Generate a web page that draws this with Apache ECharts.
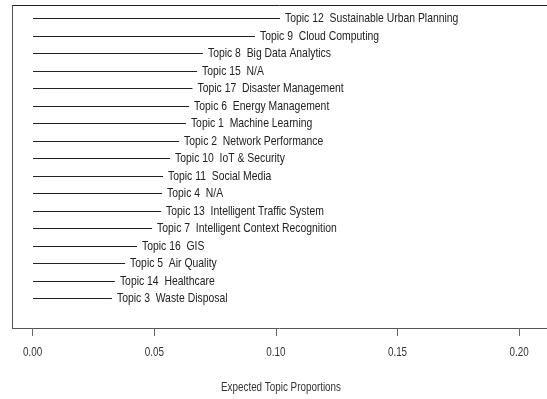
<!DOCTYPE html>
<html>
<head>
<meta charset="utf-8">
<script src="https://cdn.jsdelivr.net/npm/echarts@6/dist/echarts.min.js"></script>
<style>
  html, body { margin: 0; padding: 0; background: #fff; }
  #chart { width: 547px; height: 399px; }
</style>
</head>
<body>
<div id="chart"></div>
<script>
// Topics, ordered from top row to bottom row
const topics = [
  'Topic 12  Sustainable Urban Planning',
  'Topic 9  Cloud Computing',
  'Topic 8  Big Data Analytics',
  'Topic 15  N/A',
  'Topic 17  Disaster Management',
  'Topic 6  Energy Management',
  'Topic 1  Machine Learning',
  'Topic 2  Network Performance',
  'Topic 10  IoT & Security',
  'Topic 11  Social Media',
  'Topic 4  N/A',
  'Topic 13  Intelligent Traffic System',
  'Topic 7  Intelligent Context Recognition',
  'Topic 16  GIS',
  'Topic 5  Air Quality',
  'Topic 14  Healthcare',
  'Topic 3  Waste Disposal'
];

// Expected topic proportions, same order
const proportions = [
  0.1017, 0.0914, 0.0700, 0.0676, 0.0657, 0.0643, 0.0630, 0.0602, 0.0565,
  0.0536, 0.0532, 0.0528, 0.0491, 0.0429, 0.0380, 0.0338, 0.0326
];

const xTicks = [0, 0.05, 0.10, 0.15, 0.20];
const xTickLabels = ['0.00', '0.05', '0.10', '0.15', '0.20'];
const xTitle = 'Expected Topic Proportions';

const FONT = '"Liberation Sans", Arial, sans-serif';
const FONT_SIZE = 13.5;
const NARROW = 0.77;       // horizontal squeeze for an Arial-Narrow look
const NARROW_AXIS = 0.73;

const chart = echarts.init(document.getElementById('chart'), null, { renderer: 'canvas' });

const rowHeight = 17.5;
const gridTop = 9.25;
const gridBottomY = gridTop + rowHeight * topics.length;
const frameBottom = 328;
const tickLabelY = 352.5;

chart.setOption({
  animation: false,
  backgroundColor: '#ffffff',
  grid: {
    left: 32.7,
    right: 547 - 519.1,
    top: gridTop,
    height: rowHeight * topics.length
  },
  xAxis: {
    type: 'value',
    min: xTicks[0],
    max: xTicks[xTicks.length - 1],
    interval: 0.05,
    offset: frameBottom - gridBottomY,
    splitLine: { show: false },
    axisLine: { show: false },
    axisTick: { show: true, length: 8, lineStyle: { color: '#666', width: 1 } },
    axisLabel: { show: false }
  },
  yAxis: {
    type: 'category',
    data: topics,
    inverse: true,
    show: false
  },
  graphic: [
    // plot frame
    { type: 'line', silent: true, shape: { x1: 12, y1: 5.5, x2: 547, y2: 5.5 }, style: { stroke: '#222', lineWidth: 1 } },
    { type: 'line', silent: true, shape: { x1: 12.5, y1: 5.5, x2: 12.5, y2: frameBottom + 0.5 }, style: { stroke: '#555', lineWidth: 1 } },
    { type: 'line', silent: true, shape: { x1: 12, y1: frameBottom + 0.5, x2: 547, y2: frameBottom + 0.5 }, style: { stroke: '#555', lineWidth: 1 } },
    // axis title
    {
      type: 'text', silent: true, x: 281, y: 387, scaleX: NARROW_AXIS,
      style: { text: xTitle, fill: '#333', font: FONT_SIZE + 'px ' + FONT, align: 'center', verticalAlign: 'middle' }
    }
  ],
  series: [
    {
      // topic rows: a line from zero to the proportion, then the label
      type: 'custom',
      data: proportions.map((v, i) => [v, i]),
      encode: { x: 0, y: 1 },
      renderItem: function (params, api) {
        const idx = params.dataIndex;
        const start = api.coord([0, api.value(1)]);
        const end = api.coord([api.value(0), api.value(1)]);
        const y = Math.round(start[1]) + 0.5;
        return {
          type: 'group',
          children: [
            {
              type: 'line',
              shape: { x1: Math.round(start[0]), y1: y, x2: end[0], y2: y },
              style: { stroke: '#222', lineWidth: 1 }
            },
            {
              type: 'text',
              x: end[0] + 5,
              y: y,
              scaleX: NARROW,
              style: {
                text: topics[idx],
                fill: '#222',
                font: FONT_SIZE + 'px ' + FONT,
                align: 'left',
                verticalAlign: 'middle'
              }
            }
          ]
        };
      }
    },
    {
      // x tick labels
      type: 'custom',
      data: xTicks.map((v, i) => [v, 0, i]),
      encode: { x: 0, y: 1 },
      renderItem: function (params, api) {
        const p = api.coord([api.value(0), 0]);
        return {
          type: 'text',
          x: p[0],
          y: tickLabelY,
          scaleX: NARROW_AXIS,
          style: {
            text: xTickLabels[api.value(2)],
            fill: '#333',
            font: FONT_SIZE + 'px ' + FONT,
            align: 'center',
            verticalAlign: 'middle'
          }
        };
      }
    }
  ]
});
</script>
</body>
</html>
